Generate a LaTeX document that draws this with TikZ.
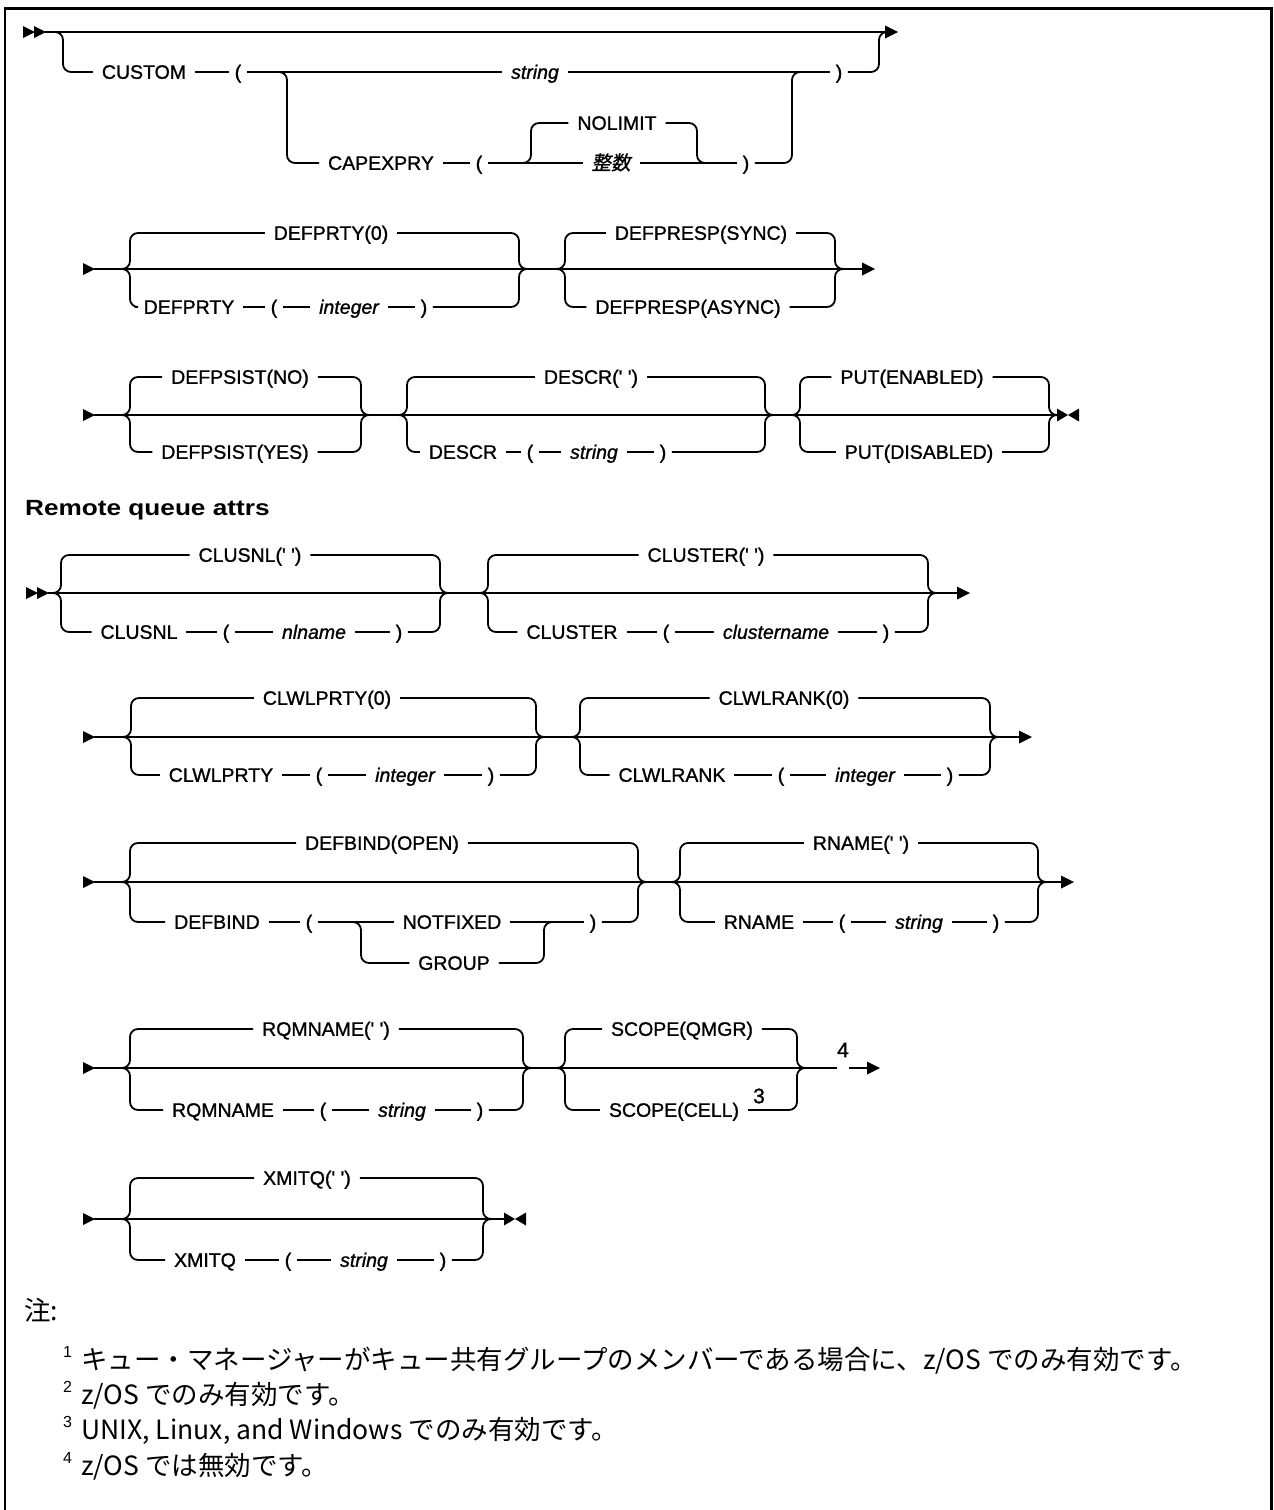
\documentclass[tikz,border=0pt]{standalone}
\usepackage{graphicx}
\usepackage{fontspec}
\setmainfont{Liberation Sans}
\newfontfamily\kwfont[FakeBold=1.1]{Liberation Sans}
\newfontfamily\cjk{Noto Sans CJK JP}
\newfontfamily\cjkit[FakeSlant=0.2,FakeBold=1]{Noto Sans CJK JP}
\newcommand{\kwsize}{\fontsize{19.5}{23}\selectfont\kwfont}
\newcommand{\qq}{\textquotesingle\ \textquotesingle}
\tikzset{
  ln/.style={line width=1.8pt},
  rc/.style={line width=1.8pt, rounded corners=8pt},
  kw/.style={font=\kwsize, inner sep=0pt, outer xsep=9pt, outer ysep=0pt, text height=13.6pt, text depth=0pt, anchor=center},
  pa/.style={kw, outer xsep=5.5pt},
  vr/.style={kw, font=\kwsize\itshape},
  supnum/.style={font=\fontsize{21}{25}\selectfont\kwfont, inner sep=0pt},
  notetxt/.style={font=\fontsize{26.5}{31}\selectfont\cjk, inner sep=0pt, anchor=base west},
  notenum/.style={font=\fontsize{16}{19}\selectfont, inner sep=0pt, anchor=base west},
}
\newcommand{\StartOne}[2]{\fill ({#1},{#2-6}) -- ({#1+12},{#2}) -- ({#1},{#2+6}) -- cycle;}
\newcommand{\StartTwo}[2]{\StartOne{#1}{#2}\StartOne{#1+11}{#2}}
\newcommand{\EndArrow}[2]{\fill ({#1},{#2-6.5}) -- ({#1+13},{#2}) -- ({#1},{#2+6.5}) -- cycle;}
\newcommand{\EndBow}[2]{\fill ({#1},{#2-6.5}) -- ({#1+11},{#2}) -- ({#1},{#2+6.5}) -- cycle;
  \fill ({#1+22},{#2-6.5}) -- ({#1+11},{#2}) -- ({#1+22},{#2+6.5}) -- cycle;}
% left brace piece: xL, yMain, yRow, first node
\newcommand{\BrL}[4]{\draw[rc] ({#1-10},{#2}) -- ({#1},{#2}) -- ({#1},{#3}) -- (#4);}
% right brace piece: xR, yMain, yRow, last node
\newcommand{\BrR}[4]{\draw[rc] (#4) -- ({#1},{#3}) -- ({#1},{#2}) -- ({#1+10},{#2});}
\begin{document}
\begin{tikzpicture}[x=1pt,y=-1pt]
\useasboundingbox (0,0) rectangle (1274,1510);
% frame
\draw[line width=2.5pt] (5,1512) -- (5,8.5) -- (1271.5,8.5) -- (1271.5,1512);

% ================= Row 1 =================
\StartTwo{23}{32}
\coordinate (r1s) at (45,32); \coordinate (r1e) at (886,32);
\draw[ln] (r1s) -- (r1e);
\EndArrow{885}{32}
\node[kw] (custom) at (144,72) {CUSTOM};
\node[pa] (cpa) at (238,72) {(};
\node[vr] (cstr) at (535,72) {string};
\node[pa] (cpb) at (839,72) {)};
\node[kw] (capx) at (381,163) {CAPEXPRY};
\node[pa] (cpc) at (479,163) {(};
\node[kw] (nolim) at (617,123) {NOLIMIT};
\node[kw, font=\kwsize\cjkit] (seisu) at (611,163) {整数};
\node[pa] (cpd) at (746,163) {)};
\draw[rc] (55,32) -- (63,32) -- (63,72) -- (custom);
\draw[ln] (custom) -- (cpa);
\draw[ln] (cpa) -- (cstr);
\draw[ln] (cstr) -- (cpb);
\draw[rc] (cpb) -- (879,72) -- (879,32) -- (887,32);
\draw[rc] (279,72) -- (287,72) -- (287,163) -- (capx);
\draw[ln] (capx) -- (cpc);
\draw[ln] (cpc) -- (seisu);
\draw[ln] (seisu) -- (cpd);
\draw[rc] (523,163) -- (531,163) -- (531,123) -- (nolim);
\draw[rc] (nolim) -- (697,123) -- (697,163) -- (705,163);
\draw[rc] (cpd) -- (792,163) -- (792,72) -- (800,72);

% ================= Row 2 =================
\StartOne{83}{269}
\coordinate (r2s) at (94,269); \coordinate (r2e) at (863,269);
\draw[ln] (r2s) -- (r2e);
\EndArrow{862}{269}
\node[kw] (dp0) at (331,233) {DEFPRTY(0)};
\node[kw] (dp) at (189,307) {DEFPRTY};
\node[pa] (dpa) at (274,307) {(};
\node[vr] (dpi) at (349,307) {integer};
\node[pa] (dpb) at (424,307) {)};
\BrL{130}{269}{233}{dp0}
\BrL{130}{269}{307}{dp}
\BrR{519}{269}{233}{dp0}
\BrR{519}{269}{307}{dpb}
\draw[ln] (dp) -- (dpa); \draw[ln] (dpa) -- (dpi); \draw[ln] (dpi) -- (dpb);
\node[kw] (dr1) at (701,233) {DEFPRESP(SYNC)};
\node[kw] (dr2) at (688,307) {DEFPRESP(ASYNC)};
\BrL{565}{269}{233}{dr1}
\BrL{565}{269}{307}{dr2}
\BrR{835}{269}{233}{dr1}
\BrR{835}{269}{307}{dr2}

% ================= Row 3 =================
\StartOne{83}{415}
\coordinate (r3s) at (94,415); \coordinate (r3e) at (1058,415);
\draw[ln] (r3s) -- (r3e);
\EndBow{1057}{415}
\node[kw] (ps1) at (240,377) {DEFPSIST(NO)};
\node[kw] (ps2) at (235,452) {DEFPSIST(YES)};
\BrL{130}{415}{377}{ps1}
\BrL{130}{415}{452}{ps2}
\BrR{361}{415}{377}{ps1}
\BrR{361}{415}{452}{ps2}
\node[kw] (ds1) at (591,377) {DESCR(\qq)};
\node[kw] (ds) at (463,452) {DESCR};
\node[pa] (dsa) at (530,452) {(};
\node[vr] (dss) at (594,452) {string};
\node[pa] (dsb) at (663,452) {)};
\BrL{407}{415}{377}{ds1}
\BrL{407}{415}{452}{ds}
\BrR{765}{415}{377}{ds1}
\BrR{765}{415}{452}{dsb}
\draw[ln] (ds) -- (dsa); \draw[ln] (dsa) -- (dss); \draw[ln] (dss) -- (dsb);
\node[kw] (pu1) at (912,377) {PUT(ENABLED)};
\node[kw] (pu2) at (919,452) {PUT(DISABLED)};
\BrL{800}{415}{377}{pu1}
\BrL{800}{415}{452}{pu2}
\BrR{1049}{415}{377}{pu1}
\BrR{1049}{415}{452}{pu2}

% ================= Heading =================
\node[anchor=base west, inner sep=0pt, font=\fontsize{22}{26}\selectfont\bfseries] (hd) at (25,515) {\scalebox{1.19}[1]{Remote queue attrs}};

% ================= Row 4 =================
\StartTwo{26}{593}
\coordinate (r4s) at (48,593); \coordinate (r4e) at (958,593);
\draw[ln] (r4s) -- (r4e);
\EndArrow{957}{593}
\node[kw] (cn1) at (250,555) {CLUSNL(\qq)};
\node[kw] (cn) at (139,632) {CLUSNL};
\node[pa] (cna) at (226,632) {(};
\node[vr] (cnn) at (314,632) {nlname};
\node[pa] (cnb) at (399,632) {)};
\BrL{61}{593}{555}{cn1}
\BrL{61}{593}{632}{cn}
\BrR{440}{593}{555}{cn1}
\BrR{440}{593}{632}{cnb}
\draw[ln] (cn) -- (cna); \draw[ln] (cna) -- (cnn); \draw[ln] (cnn) -- (cnb);
\node[kw] (cl1) at (706,555) {CLUSTER(\qq)};
\node[kw] (cl) at (572,632) {CLUSTER};
\node[pa] (cla) at (666,632) {(};
\node[vr] (clc) at (776,632) {clustername};
\node[pa] (clb) at (886,632) {)};
\BrL{488}{593}{555}{cl1}
\BrL{488}{593}{632}{cl}
\BrR{928}{593}{555}{cl1}
\BrR{928}{593}{632}{clb}
\draw[ln] (cl) -- (cla); \draw[ln] (cla) -- (clc); \draw[ln] (clc) -- (clb);

% ================= Row 5 =================
\StartOne{83}{737}
\coordinate (r5s) at (94,737); \coordinate (r5e) at (1020,737);
\draw[ln] (r5s) -- (r5e);
\EndArrow{1019}{737}
\node[kw] (wp1) at (327,698) {CLWLPRTY(0)};
\node[kw] (wp) at (221,775) {CLWLPRTY};
\node[pa] (wpa) at (319,775) {(};
\node[vr] (wpi) at (405,775) {integer};
\node[pa] (wpb) at (491,775) {)};
\BrL{131}{737}{698}{wp1}
\BrL{131}{737}{775}{wp}
\BrR{536}{737}{698}{wp1}
\BrR{536}{737}{775}{wpb}
\draw[ln] (wp) -- (wpa); \draw[ln] (wpa) -- (wpi); \draw[ln] (wpi) -- (wpb);
\node[kw] (wr1) at (784,698) {CLWLRANK(0)};
\node[kw] (wr) at (672,775) {CLWLRANK};
\node[pa] (wra) at (781,775) {(};
\node[vr] (wri) at (865,775) {integer};
\node[pa] (wrb) at (950,775) {)};
\BrL{580}{737}{698}{wr1}
\BrL{580}{737}{775}{wr}
\BrR{990}{737}{698}{wr1}
\BrR{990}{737}{775}{wrb}
\draw[ln] (wr) -- (wra); \draw[ln] (wra) -- (wri); \draw[ln] (wri) -- (wrb);

% ================= Row 6 =================
\StartOne{83}{882}
\coordinate (r6s) at (94,882); \coordinate (r6e) at (1062,882);
\draw[ln] (r6s) -- (r6e);
\EndArrow{1061}{882}
\node[kw] (db1) at (382,843) {DEFBIND(OPEN)};
\node[kw] (db) at (217,922) {DEFBIND};
\node[pa] (dba) at (309,922) {(};
\node[kw] (dbn) at (452,922) {NOTFIXED};
\node[kw] (dbg) at (454,963) {GROUP};
\node[pa] (dbb) at (593,922) {)};
\BrL{130}{882}{843}{db1}
\BrL{130}{882}{922}{db}
\BrR{638}{882}{843}{db1}
\BrR{638}{882}{922}{dbb}
\draw[ln] (db) -- (dba); \draw[ln] (dba) -- (dbn); \draw[ln] (dbn) -- (dbb);
\draw[rc] (353,922) -- (361,922) -- (361,963) -- (dbg);
\draw[rc] (dbg) -- (544,963) -- (544,922) -- (552,922);
\node[kw] (rn1) at (861,843) {RNAME(\qq)};
\node[kw] (rn) at (759,922) {RNAME};
\node[pa] (rna) at (842,922) {(};
\node[vr] (rns) at (919,922) {string};
\node[pa] (rnb) at (996,922) {)};
\BrL{680}{882}{843}{rn1}
\BrL{680}{882}{922}{rn}
\BrR{1038}{882}{843}{rn1}
\BrR{1038}{882}{922}{rnb}
\draw[ln] (rn) -- (rna); \draw[ln] (rna) -- (rns); \draw[ln] (rns) -- (rnb);

% ================= Row 7 =================
\StartOne{83}{1068}
\coordinate (r7s) at (94,1068); \coordinate (r7m) at (837,1068);
\coordinate (r7n) at (849,1068); \coordinate (r7e) at (868,1068);
\draw[ln] (r7s) -- (r7m);
\node[supnum] (n4) at (843,1050) {4};
\draw[ln] (r7n) -- (r7e);
\EndArrow{867}{1068}
\node[kw] (rq1) at (326,1029) {RQMNAME(\qq)};
\node[kw] (rq) at (223,1110) {RQMNAME};
\node[pa] (rqa) at (323,1110) {(};
\node[vr] (rqs) at (402,1110) {string};
\node[pa] (rqb) at (480,1110) {)};
\BrL{130}{1068}{1029}{rq1}
\BrL{130}{1068}{1110}{rq}
\BrR{523}{1068}{1029}{rq1}
\BrR{523}{1068}{1110}{rqb}
\draw[ln] (rq) -- (rqa); \draw[ln] (rqa) -- (rqs); \draw[ln] (rqs) -- (rqb);
\node[kw] (sc1) at (682,1029) {SCOPE(QMGR)};
\node[kw] (sc2) at (674,1110) {SCOPE(CELL)};
\node[supnum] (n3) at (759,1096) {3};
\BrL{565}{1068}{1029}{sc1}
\BrL{565}{1068}{1110}{sc2}
\BrR{797}{1068}{1029}{sc1}
\BrR{797}{1068}{1110}{sc2}

% ================= Row 8 =================
\StartOne{83}{1219}
\coordinate (r8s) at (94,1219); \coordinate (r8e) at (505,1219);
\draw[ln] (r8s) -- (r8e);
\EndBow{504}{1219}
\node[kw] (xq1) at (307,1178) {XMITQ(\qq)};
\node[kw] (xq) at (205,1260) {XMITQ};
\node[pa] (xqa) at (288,1260) {(};
\node[vr] (xqs) at (364,1260) {string};
\node[pa] (xqb) at (443,1260) {)};
\BrL{130}{1219}{1178}{xq1}
\BrL{130}{1219}{1260}{xq}
\BrR{483}{1219}{1178}{xq1}
\BrR{483}{1219}{1260}{xqb}
\draw[ln] (xq) -- (xqa); \draw[ln] (xqa) -- (xqs); \draw[ln] (xqs) -- (xqb);

% ================= Notes =================
\node[notetxt] (nt) at (24,1320) {注:};
\node[notenum] (nn1) at (63,1357) {1};
\node[notetxt] (nt1) at (81,1369) {キュー・マネージャーがキュー共有グループのメンバーである場合に、z/OS でのみ有効です。};
\node[notenum] (nn2) at (63,1392) {2};
\node[notetxt] (nt2) at (81,1404) {z/OS でのみ有効です。};
\node[notenum] (nn3) at (63,1427) {3};
\node[notetxt] (nt3) at (81,1439) {UNIX, Linux, and Windows でのみ有効です。};
\node[notenum] (nn4) at (63,1463) {4};
\node[notetxt] (nt4) at (81,1475) {z/OS では無効です。};
\end{tikzpicture}
\end{document}
